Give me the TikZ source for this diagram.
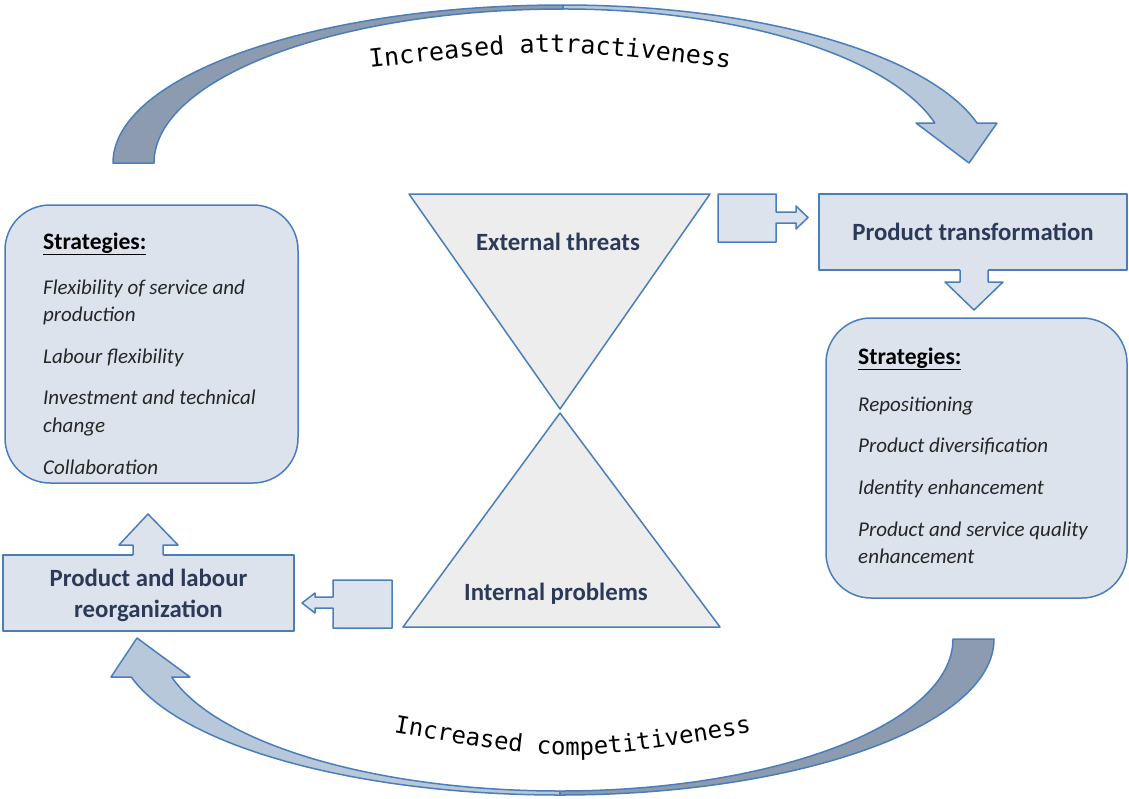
\documentclass[tikz,border=0pt]{standalone}
\usepackage{fontspec}
\setmainfont{Carlito}
\newfontfamily\monofam{DejaVu Sans Mono}
\usetikzlibrary{decorations.text}
\definecolor{edge}{HTML}{4A7EBB}
\definecolor{boxfill}{HTML}{DCE3ED}
\definecolor{glass}{HTML}{EDEDED}
\definecolor{darkband}{HTML}{8C9BB0}
\definecolor{lightband}{HTML}{B8C8DB}
\definecolor{navy}{HTML}{2B3A57}
\begin{document}
\begin{tikzpicture}[x=1pt,y=-1pt,
  shapeline/.style={draw=edge, line width=1.5pt, line join=round},
  rbox/.style={shapeline, fill=boxfill, rounded corners=45pt, inner sep=0pt},
  sbox/.style={shapeline, fill=boxfill, inner sep=0pt},
  titletext/.style={font=\fontsize{24.8}{31}\selectfont\bfseries, text=navy},
  itemtext/.style={anchor=base west, inner sep=0pt, font=\fontsize{21}{25}\selectfont\itshape, text=black!85},
  headtext/.style={anchor=base west, inner sep=0pt, font=\fontsize{23.6}{28}\selectfont\bfseries, text=black},
  darkbandstyle/.style={shapeline, fill=darkband},
  lightbandstyle/.style={shapeline, fill=lightband},
]
\useasboundingbox (0,0) rectangle (1129,798);

% ---- top curved arrow ----
\draw[darkbandstyle] (113,163) arc[start angle=180, end angle=270, x radius=450, y radius=158]
  -- (563,9) arc[start angle=270, end angle=180, x radius=409, y radius=154] -- cycle;
\draw[lightbandstyle] (563,5) arc[start angle=270, end angle=345.35, x radius=428, y radius=158]
  -- (997,123) -- (969,163) -- (916,123) -- (934.8,123)
  arc[start angle=344.95, end angle=270, x radius=385, y radius=154] -- cycle;
\path[decorate, decoration={text along path, text align=center,
  text={|\monofam\fontsize{25}{25}\selectfont|Increased attractiveness}}]
  (360,69) .. controls (550,47) .. (740,69);

% ---- bottom curved arrow ----
\draw[darkbandstyle] (994,639) arc[start angle=0, end angle=90, x radius=434, y radius=156]
  -- (560,791) arc[start angle=90, end angle=0, x radius=393, y radius=152] -- cycle;
\draw[lightbandstyle] (560,795) arc[start angle=90, end angle=165.9, x radius=442, y radius=156]
  -- (111,677) -- (137,638) -- (190,677) -- (171.7,677)
  arc[start angle=165.52, end angle=90, x radius=401, y radius=152] -- cycle;
\path[decorate, decoration={text along path, text align=center,
  text={|\monofam\fontsize{24}{24}\selectfont|Increased competitiveness}}]
  (385,731) .. controls (572,763) .. (760,731);

% ---- left strategies box ----
\node[rbox, minimum width=293pt, minimum height=278pt] (L) at (151.5,344) {};
\node[headtext] (Lh) at (43,249) {\underline{Strategies:}};
\node[itemtext] (L1) at (43,294) {Flexibility of service and};
\node[itemtext] (L2) at (43,321) {production};
\node[itemtext] (L3) at (43,363) {Labour flexibility};
\node[itemtext] (L4) at (43,404) {Investment and technical};
\node[itemtext] (L5) at (43,432) {change};
\node[itemtext] (L6) at (43,474) {Collaboration};

% ---- right strategies box ----
\node[rbox, minimum width=301pt, minimum height=280pt] (R) at (976.5,458) {};
\node[headtext] (Rh) at (858,364) {\underline{Strategies:}};
\node[itemtext] (R1) at (858,411) {Repositioning};
\node[itemtext] (R2) at (858,452) {Product diversification};
\node[itemtext] (R3) at (858,494) {Identity enhancement};
\node[itemtext] (R4) at (858,536) {Product and service quality};
\node[itemtext] (R5) at (858,563) {enhancement};

% ---- rectangles ----
\node[sbox, titletext, minimum width=308pt, minimum height=76pt] (PT) at (973,232) {Product transformation};
\node[sbox, minimum width=291pt, minimum height=76pt] (PL) at (148.5,593) {};
\node[titletext, align=center] (PLt) at (148.5,595) {Product and labour\\reorganization};

% ---- block arrows ----
\fill[boxfill] (960,268) -- (960,282) -- (945,282) -- (974,310) -- (1003,282) -- (988,282) -- (988,268) -- cycle;
\draw[shapeline] (960,270) -- (960,282) -- (945,282) -- (974,310) -- (1003,282) -- (988,282) -- (988,270);
\fill[boxfill] (133,557) -- (133,545) -- (119,545) -- (148,514) -- (178,545) -- (163,545) -- (163,557) -- cycle;
\draw[shapeline] (133,555) -- (133,545) -- (119,545) -- (148,514) -- (178,545) -- (163,545) -- (163,555);
\draw[sbox] (718,194) -- (776,194) -- (776,212) -- (796,212) -- (796,206) -- (808,217.5)
  -- (796,229) -- (796,223) -- (776,223) -- (776,242) -- (718,242) -- cycle;
\draw[sbox] (392,580) -- (333,580) -- (333,597) -- (315,597) -- (315,593) -- (302,603)
  -- (315,613) -- (315,608) -- (333,608) -- (333,628) -- (392,628) -- cycle;

% ---- hourglass ----
\draw[shapeline, fill=glass] (409,194) -- (710,194) -- (560,409) -- cycle;
\draw[shapeline, fill=glass] (560,413) -- (720,627) -- (403,627) -- cycle;
\node[titletext] (ext) at (558,242) {External threats};
\node[titletext] (int) at (556,594) {Internal problems};
\end{tikzpicture}
\end{document}
